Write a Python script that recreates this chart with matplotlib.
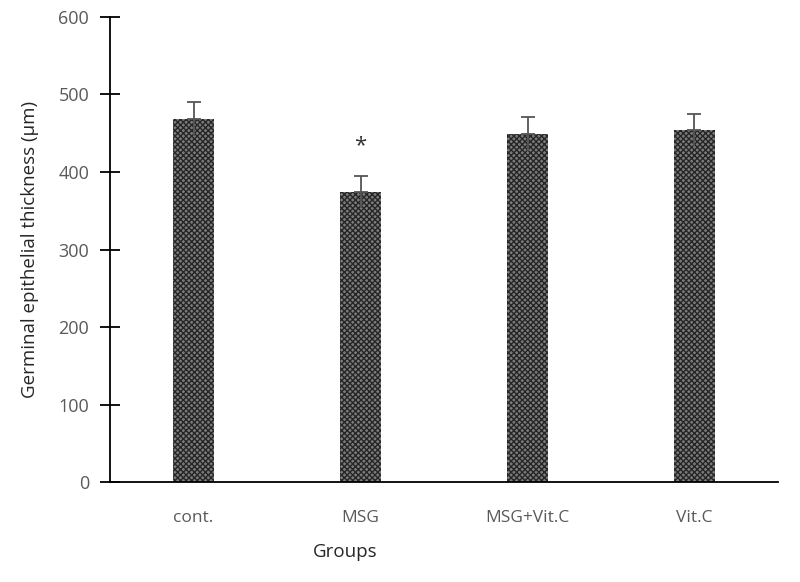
import matplotlib
matplotlib.use("Agg")
import matplotlib.pyplot as plt
import numpy as np

# データ
groups = ["cont.", "MSG", "MSG+Vit.C", "Vit.C"]
thickness = [468, 374, 449, 454]
sem = [22, 21, 22, 21]
star_y = 434

plt.rcParams["font.family"] = ["Open Sans", "DejaVu Sans"]
plt.rcParams["hatch.linewidth"] = 1.0

fig = plt.figure(figsize=(8, 5.82), dpi=100)
ax = fig.add_axes([0.1375, 0.1718, 0.835, 0.799])

x = np.arange(len(groups))
ax.bar(x, thickness, width=0.24, color="#7c7c7c", edgecolor="#262626",
       hatch="xxxxxx", linewidth=0)
ax.errorbar(x, thickness, yerr=[[0] * len(x), sem], fmt="none",
            ecolor="#555555", elinewidth=1.3, capsize=5, capthick=1.3)
ax.vlines(x, np.array(thickness) - np.array(sem), thickness,
          color="#555555", linewidth=1.3)
ax.text(x[1], star_y, "*", ha="center", va="center", fontsize=16, color="#333333")

ax.set_xlim(-0.5, len(groups) - 0.5)
ax.set_ylim(0, 600)
ax.set_yticks(range(0, 601, 100))
ax.set_xticks(x)
ax.set_xticklabels(groups)

ax.spines["top"].set_visible(False)
ax.spines["right"].set_visible(False)
ax.spines["left"].set_linewidth(1.3)
ax.spines["bottom"].set_linewidth(1.3)
ax.tick_params(axis="y", direction="inout", length=14, width=1.3,
               labelsize=13, labelcolor="#595959", pad=8)
ax.tick_params(axis="x", length=0, labelsize=12.5, labelcolor="#595959", pad=20)

ax.set_ylabel("Germinal epithelial thickness (µm)", fontsize=13.5, color="#262626", labelpad=14)
fig.text(345 / 800, 1 - 552 / 582, "Groups", ha="center", va="center",
         fontsize=13.5, color="#262626")

fig.savefig("out.png", dpi=100)
